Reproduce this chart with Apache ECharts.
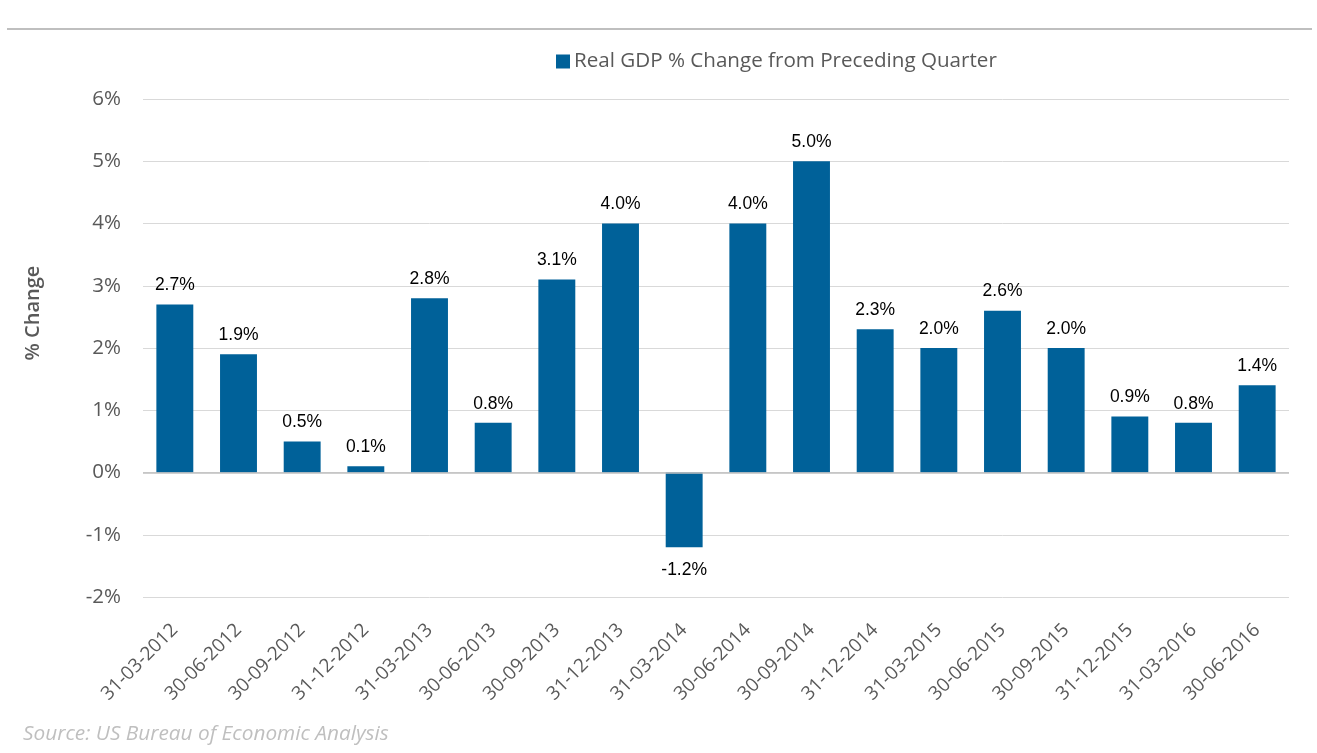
<!DOCTYPE html>
<html>
<head>
<meta charset="utf-8">
<script src="https://cdn.jsdelivr.net/npm/echarts@6/dist/echarts.min.js"></script>
<style>
html,body{margin:0;padding:0;background:#fff;}
#chart{width:1317px;height:753px;}
</style>
</head>
<body>
<div id="chart"></div>
<script>
const categories = ['31-03-2012','30-06-2012','30-09-2012','31-12-2012','31-03-2013','30-06-2013','30-09-2013','31-12-2013','31-03-2014','30-06-2014','30-09-2014','31-12-2014','31-03-2015','30-06-2015','30-09-2015','31-12-2015','31-03-2016','30-06-2016'];
const gdpChange = [2.7,1.9,0.5,0.1,2.8,0.8,3.1,4.0,-1.2,4.0,5.0,2.3,2.0,2.6,2.0,0.9,0.8,1.4];
const seriesName = 'Real GDP % Change from Preceding Quarter';
const yMin = -2, yMax = 6, yStep = 1;

const chart = echarts.init(document.getElementById('chart'));
chart.setOption({
  backgroundColor: '#ffffff',
  animation: false,
  textStyle: { fontFamily: 'Open Sans' },
  graphic: [
    { type: 'rect', shape: { x: 7, y: 28, width: 1305, height: 2 }, style: { fill: '#bfbfbf' } },
    { type: 'text', left: 23, top: 724, style: { text: 'Source: US Bureau of Economic Analysis', fill: '#bfbfbf', fontSize: 20.8, fontStyle: 'italic', fontFamily: 'Open Sans' } }
  ],
  legend: {
    data: [seriesName],
    top: 46,
    left: 551,
    itemWidth: 14,
    itemHeight: 14,
    itemGap: 6,
    icon: 'rect',
    textStyle: { color: '#595959', fontSize: 20.6, fontFamily: 'Open Sans', padding: [0, 0, 0, -1] }
  },
  grid: { left: 143, right: 28, top: 99, bottom: 156 },
  xAxis: {
    type: 'category',
    data: categories,
    axisLine: { show: false, onZero: false },
    axisTick: { show: false },
    axisLabel: { rotate: 45, color: '#595959', fontSize: 19, margin: 30, interval: 0, fontFamily: 'Open Sans' }
  },
  yAxis: {
    type: 'value',
    min: yMin, max: yMax, interval: yStep,
    name: '% Change',
    nameLocation: 'middle',
    nameGap: 100,
    nameTextStyle: { color: '#595959', fontSize: 20, fontWeight: 600, fontFamily: 'Open Sans', padding: [0, 0, 0, 70] },
    axisLine: { show: false },
    axisTick: { show: false },
    axisLabel: { formatter: v => v + '%', color: '#595959', fontSize: 20.5, margin: 22, fontFamily: 'Open Sans' },
    splitLine: { lineStyle: { color: '#d9d9d9', width: 1 } }
  },
  series: [{
    name: seriesName,
    type: 'bar',
    data: gdpChange.map(v => v < 0 ? { value: v, label: { position: 'bottom', distance: 14 } } : v),
    barWidth: '58%',
    itemStyle: { color: '#006199' },
    label: {
      show: true,
      position: 'top',
      distance: 10,
      formatter: p => p.value.toFixed(1) + '%',
      color: '#000000',
      fontSize: 17.5,
      fontFamily: 'Liberation Sans'
    },
    markLine: {
      silent: true,
      symbol: 'none',
      label: { show: false },
      lineStyle: { color: '#bfbfbf', width: 1.5, type: 'solid' },
      data: [{ yAxis: 0 }]
    }
  }]
});
</script>
</body>
</html>
